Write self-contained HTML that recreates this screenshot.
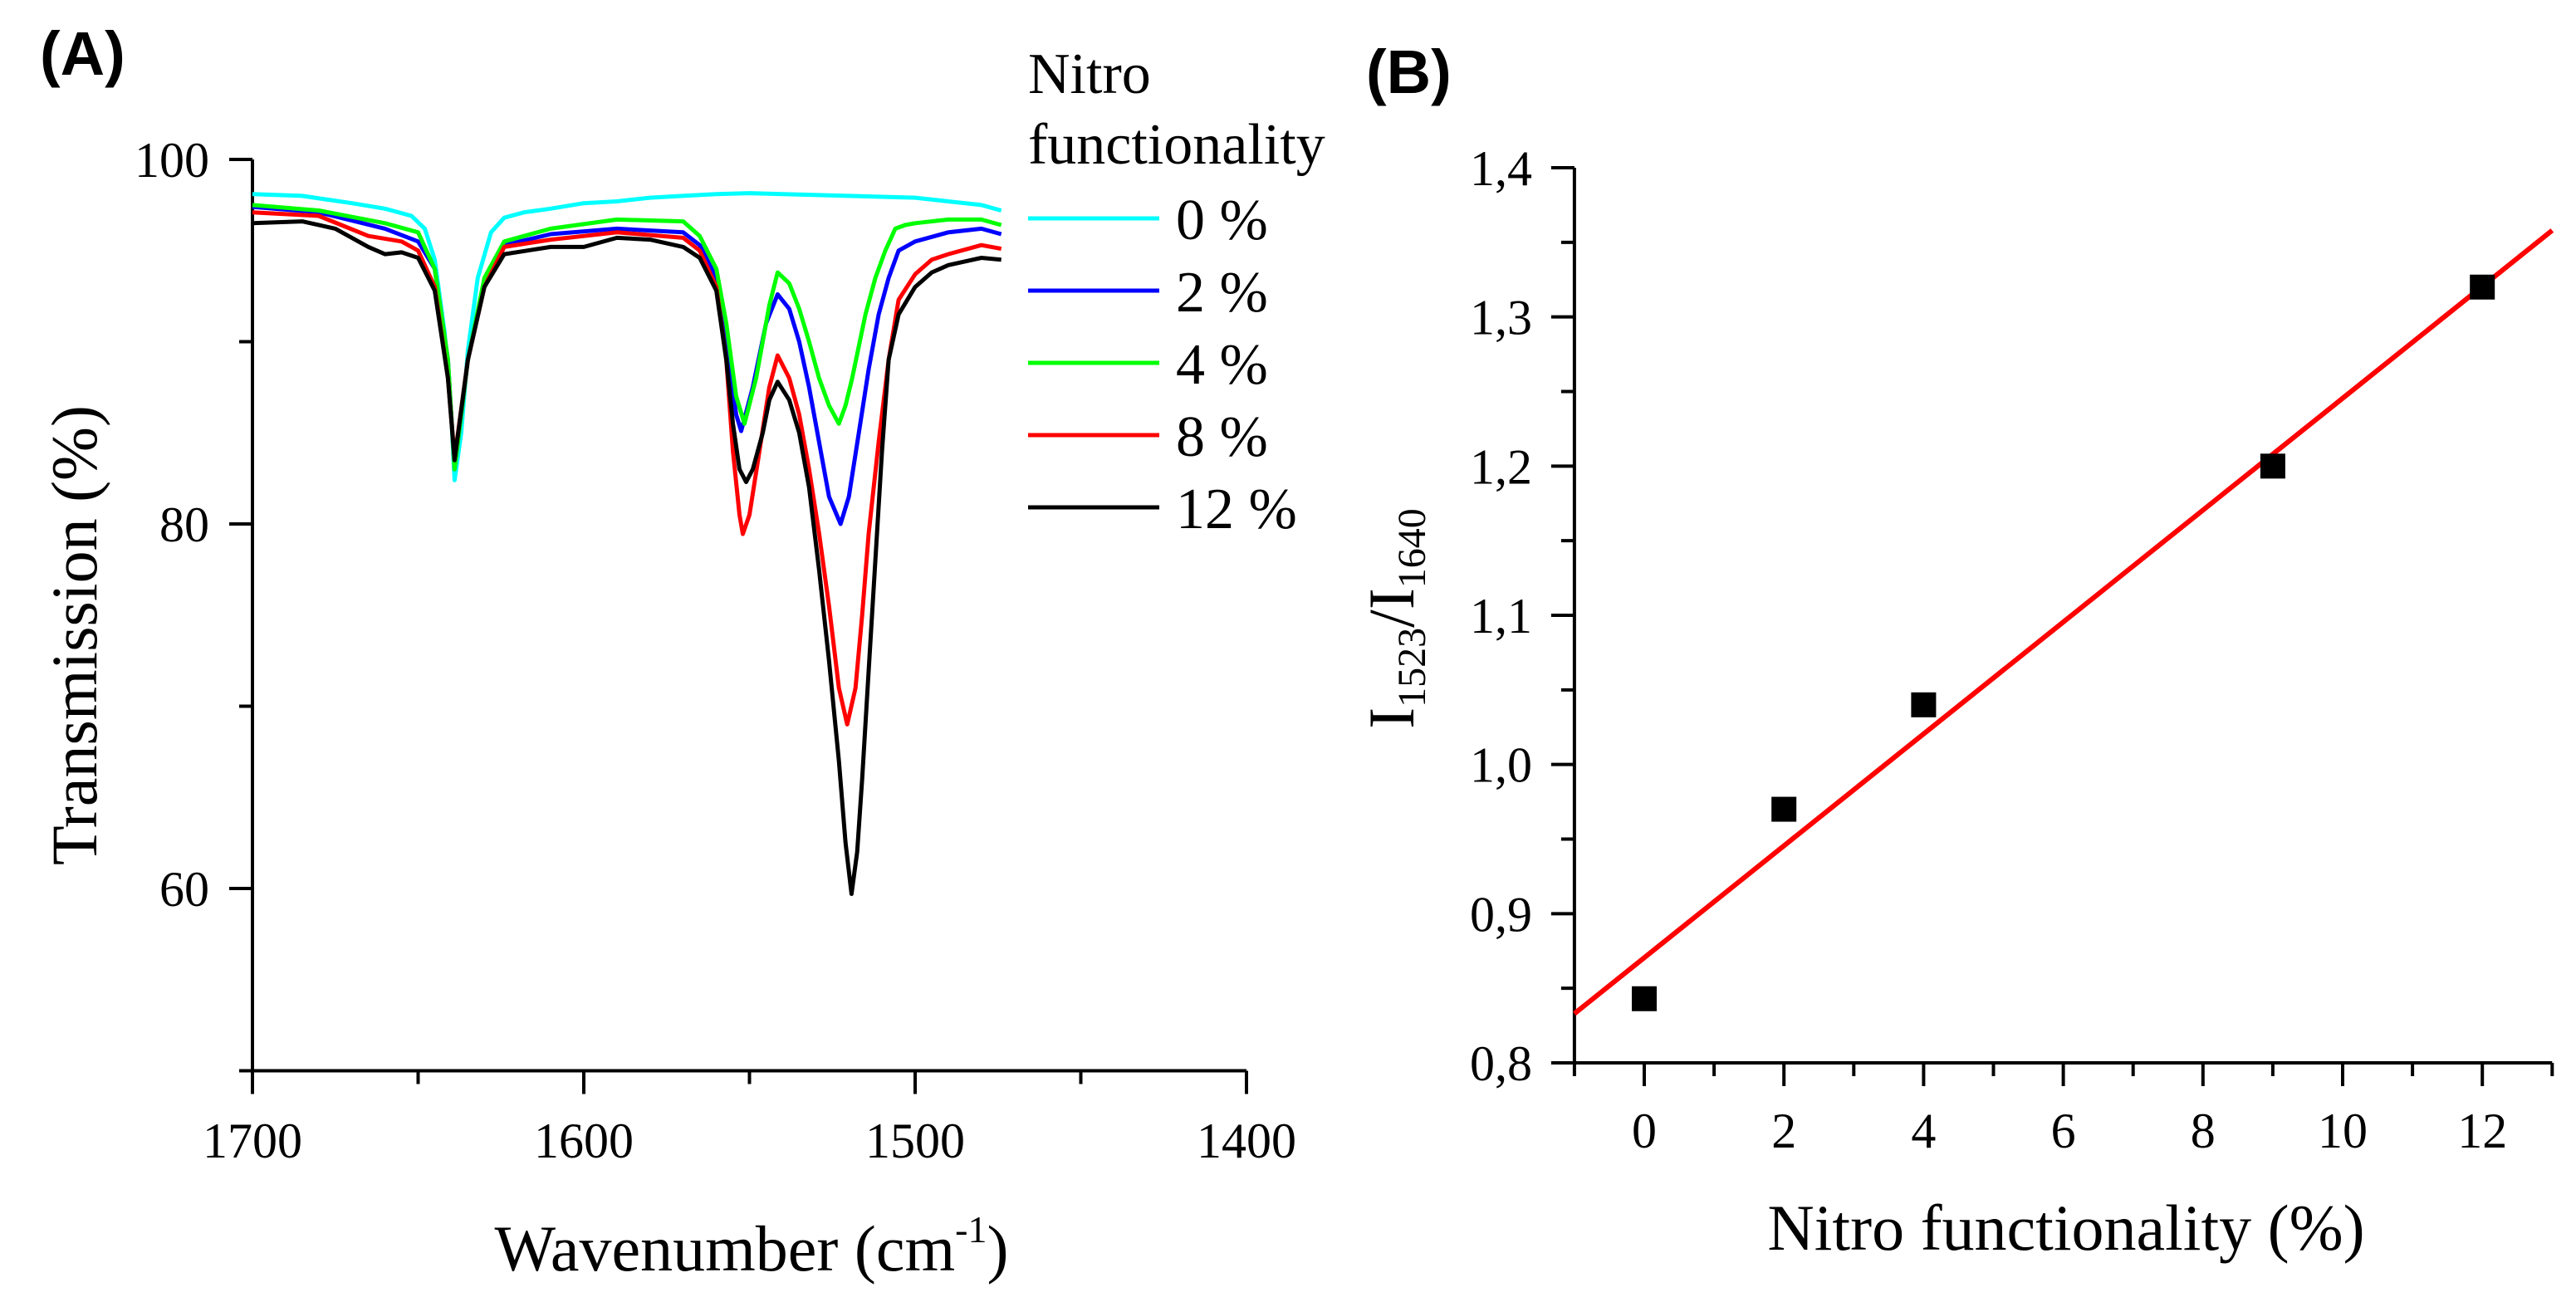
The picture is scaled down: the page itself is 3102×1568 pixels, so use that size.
<!DOCTYPE html>
<html><head><meta charset="utf-8"><style>
html,body{margin:0;padding:0;background:#fff;}
svg{display:block;font-family:"Liberation Serif",serif;}
</style></head><body>
<svg id="fig" width="3102" height="1568" viewBox="0 0 3102 1568" xmlns="http://www.w3.org/2000/svg">
<text x="48" y="90" font-family="Liberation Sans, sans-serif" font-weight="bold" font-size="74">(A)</text>
<text x="1645" y="112" font-family="Liberation Sans, sans-serif" font-weight="bold" font-size="74">(B)</text>
<g id="pa"></g>
<g id="pb"></g>
</svg>
<script>
// ---------- Panel A data ----------
const aXTicks=[1700,1600,1500,1400];
const aYTicks=[100,80,60];
const wnCyan=[1700,1685,1670,1660,1652,1648,1645,1642,1640,1639,1637,1635,1632,1628,1624,1618,1610,1600,1590,1580,1570,1560,1550,1540,1520,1500,1490,1480,1474];
const tCyan=[98.1,98.0,97.6,97.3,96.9,96.2,94.5,90.5,86,82.4,85,89.5,93.5,96,96.8,97.1,97.3,97.6,97.7,97.9,98.0,98.1,98.15,98.1,98.0,97.9,97.7,97.5,97.2];
const wnGreen=[1700,1680,1660,1650,1645,1641,1639,1635,1630,1624,1610,1590,1570,1565,1560,1557,1554,1551.5,1548,1544,1541.5,1538,1535,1532,1529,1526,1523,1521,1519,1515,1512,1509,1506,1503,1500,1490,1480,1474];
const tGreen=[97.5,97.2,96.5,96,94,89,83,89,93.5,95.5,96.2,96.7,96.6,95.8,94,91,87,85.5,88,92,93.8,93.2,91.8,90,88,86.5,85.5,86.5,88,91.5,93.5,95,96.2,96.4,96.5,96.7,96.7,96.4];
const wnBlue=[1700,1680,1660,1650,1645,1641,1639,1635,1630,1624,1610,1590,1570,1565,1560,1557,1554,1552.5,1549,1545,1541.5,1538,1535,1532,1529,1526,1522.5,1520,1517,1514,1511,1508,1505,1500,1490,1480,1474];
const tBlue=[97.4,97.1,96.2,95.5,94,89,83,89,93.3,95.3,95.9,96.2,96,95.3,93.5,90,86,85.1,87.5,91,92.6,91.8,90,87.5,84.5,81.5,80,81.5,85,88.5,91.5,93.5,95,95.5,96,96.2,95.9];
const wnRed=[1700,1680,1665,1655,1650,1645,1641,1639,1635,1630,1624,1610,1590,1570,1565,1560,1557,1555,1553,1552,1550,1547,1544,1541.5,1538,1535,1532,1529,1526,1523,1520.5,1518,1516,1514,1511,1508,1505,1500,1495,1490,1480,1474];
const tRed=[97.1,96.9,95.8,95.5,95,93,88,83.6,89,93,95.2,95.6,96,95.7,95,93,89,84,80.5,79.45,80.5,84,87.5,89.25,88,86,83,79.5,75.5,71,69,71,75,79.5,84.5,89,92.3,93.7,94.5,94.8,95.3,95.1];
const wnBlack=[1700,1685,1675,1665,1660,1655,1650,1645,1641,1639,1635,1630,1624,1610,1600,1590,1580,1570,1565,1560,1557,1555,1553,1551,1549,1546,1544,1541.5,1538,1535,1532,1529,1526,1523,1521,1519.2,1517.5,1516,1514,1512,1510,1508,1505,1500,1495,1490,1485,1480,1474];
const tBlack=[96.5,96.6,96.2,95.2,94.8,94.9,94.6,92.8,88,83.5,89,93,94.8,95.2,95.2,95.7,95.6,95.2,94.6,92.8,89,85.5,83,82.3,83,85,86.8,87.8,86.8,85,82,77.5,72.5,67,62.5,59.7,62,66,72,78,84,89,91.5,93,93.8,94.2,94.4,94.6,94.5];
const seriesNames=["0 %","2 %","4 %","8 %","12 %"];
const seriesColors=["#00ffff","#0000ff","#00ff00","#ff0000","#000000"];
const seriesWn=[wnCyan,wnBlue,wnGreen,wnRed,wnBlack];
const seriesT=[tCyan,tBlue,tGreen,tRed,tBlack];
// ---------- Panel B data ----------
const bX=[0,2,4,9,12];
const bY=[0.843,0.97,1.04,1.2,1.32];
const fitSlope=[0.0375];
const fitIntercept=[0.8705];
const bXTicks=[0,2,4,6,8,10,12];
const bYTicks=[0.8,0.9,1.0,1.1,1.2,1.3,1.4];

const NS="http://www.w3.org/2000/svg";
function mk(parent,tag,attrs,txt){const e=document.createElementNS(NS,tag);for(const k in attrs)e.setAttribute(k,attrs[k]);if(txt!==undefined)e.textContent=txt;parent.appendChild(e);return e;}

// Panel A axes
const ax=w=>304+(1700-w)*3.99;
const ay=t=>192+(100-t)*21.95;
const pa=document.getElementById('pa');
let l=mk(pa,'line',{x1:ax(1700),y1:ay(100),x2:ax(1700),y2:ay(50),stroke:'#000','stroke-width':4});


l=mk(pa,'line',{x1:ax(1700)-2,y1:ay(50),x2:ax(1400),y2:ay(50),stroke:'#000','stroke-width':4});


for(let w=1700;w>=1400;w-=50){const maj=w%100===0;const t=mk(pa,'line',{x1:ax(w),y1:ay(50),x2:ax(w),y2:ay(50)+(maj?28:16),stroke:'#000','stroke-width':4});

}
for(let v=100;v>=50;v-=10){const maj=v%20===0;const t=mk(pa,'line',{x1:ax(1700),y1:ay(v),x2:ax(1700)-(maj?28:16),y2:ay(v),stroke:'#000','stroke-width':4});

}
aXTicks.forEach(w=>{const t=mk(pa,'text',{x:ax(w),y:1394,'font-size':60,'text-anchor':'middle'},String(w));

});
aYTicks.forEach(v=>{const t=mk(pa,'text',{x:252,y:ay(v)+21,'font-size':60,'text-anchor':'end'},String(v));

});
let tt=mk(pa,'text',{x:905,y:1530,'font-size':78,'text-anchor':'middle'});


mk(tt,'tspan',{},'Wavenumber (cm');mk(tt,'tspan',{'font-size':46,dy:-34},'-1');mk(tt,'tspan',{dy:34},')');
tt=mk(pa,'text',{x:0,y:0,'font-size':78,'text-anchor':'middle',transform:'translate(116,765) rotate(-90)'},'Transmission (%)');


for(let i=0;i<5;i++){const wn=seriesWn[i],tv=seriesT[i];let d='';for(let j=0;j<wn.length;j++)d+=(j?'L':'M')+ax(wn[j]).toFixed(1)+','+ay(tv[j]).toFixed(1);
const p=mk(pa,'path',{d:d,fill:'none',stroke:seriesColors[i],'stroke-width':5,'stroke-linejoin':'round'});

}
// legend
let lt=mk(pa,'text',{x:1238,y:112,'font-size':70},'Nitro');


lt=mk(pa,'text',{x:1238,y:197,'font-size':70},'functionality');


for(let i=0;i<5;i++){const y=263+i*87;const g=mk(pa,'g',{});


mk(g,'line',{x1:1238,y1:y,x2:1396,y2:y,stroke:seriesColors[i],'stroke-width':5});
mk(g,'text',{x:1416,y:y+25,'font-size':70},seriesNames[i]);}

// Panel B
const bx=v=>1980+v*84.1;
const by=v=>202+(1.4-v)*1796.7;
const pb=document.getElementById('pb');
l=mk(pb,'line',{x1:bx(-1),y1:by(1.4),x2:bx(-1),y2:by(0.8),stroke:'#000','stroke-width':4});


l=mk(pb,'line',{x1:bx(-1)-2,y1:by(0.8),x2:bx(13),y2:by(0.8),stroke:'#000','stroke-width':4});


for(let v=-1;v<=13;v++){const maj=v>=0&&v%2===0;const t=mk(pb,'line',{x1:bx(v),y1:by(0.8),x2:bx(v),y2:by(0.8)+(maj?28:16),stroke:'#000','stroke-width':4});

}
for(let k=0;k<=12;k++){const v=0.8+k*0.05;const maj=k%2===0;const t=mk(pb,'line',{x1:bx(-1),y1:by(v),x2:bx(-1)-(maj?28:16),y2:by(v),stroke:'#000','stroke-width':4});

}
bXTicks.forEach(v=>{const t=mk(pb,'text',{x:bx(v),y:1382,'font-size':60,'text-anchor':'middle'},String(v));

});
bYTicks.forEach(v=>{const t=mk(pb,'text',{x:1845,y:by(v)+21,'font-size':60,'text-anchor':'end'},v.toFixed(1).replace('.',','));

});
tt=mk(pb,'text',{x:2488,y:1505,'font-size':78,'text-anchor':'middle'},'Nitro functionality (%)');


tt=mk(pb,'text',{x:0,y:0,'font-size':78,'text-anchor':'middle',transform:'translate(1702,745) rotate(-90)'});


mk(tt,'tspan',{},'I');mk(tt,'tspan',{'font-size':48,dy:14},'1523');mk(tt,'tspan',{dy:-14},'/I');mk(tt,'tspan',{'font-size':48,dy:14},'1640');
const fl=mk(pb,'line',{x1:bx(-1),y1:by(fitIntercept[0]-fitSlope[0]),x2:bx(13),y2:by(fitIntercept[0]+13*fitSlope[0]),stroke:'#ff0000','stroke-width':6});


for(let i=0;i<bX.length;i++){const r=mk(pb,'rect',{x:bx(bX[i])-15,y:by(bY[i])-15,width:30,height:30,fill:'#000'});

}
</script>
</body></html>
